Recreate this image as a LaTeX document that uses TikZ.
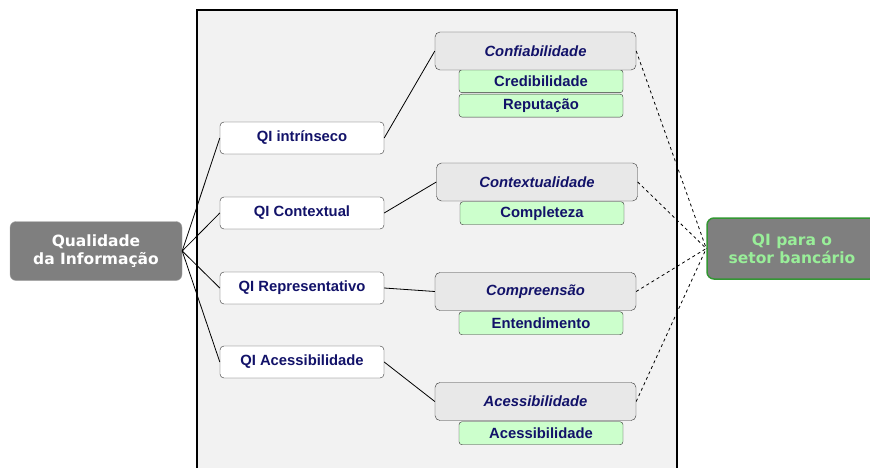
\documentclass[tikz,border=0pt]{standalone}
\usepackage{fontspec}
\setmainfont{Liberation Sans}
\newfontfamily\verdanafont{DejaVu Sans}
\usetikzlibrary{positioning}
\definecolor{navy}{RGB}{18,18,105}
\definecolor{panelgray}{RGB}{242,242,242}
\definecolor{boxgray}{RGB}{232,232,232}
\definecolor{subgreen}{RGB}{204,255,204}
\definecolor{darkgray}{RGB}{127,127,127}
\definecolor{lightgreen}{RGB}{153,238,153}
\definecolor{bordergreen}{RGB}{51,150,51}
\tikzset{qibox/.style={draw=black!80,fill=white,rounded corners=4pt,minimum width=164pt,minimum height=32pt,
           font=\fontsize{14.8}{16}\selectfont\bfseries,text=navy},
         dimbox/.style={draw=black!80,fill=boxgray,rounded corners=5pt,minimum width=201pt,minimum height=38pt,
           font=\fontsize{14.8}{16}\selectfont\bfseries\itshape,text=navy},
         subbox/.style={draw=black!80,fill=subgreen,rounded corners=3pt,minimum width=164pt,minimum height=23pt,
           font=\fontsize{14.8}{16}\selectfont\bfseries,text=navy,inner sep=0pt},
         link/.style={black,line width=0.8pt},
         dlink/.style={black,line width=0.8pt,dashed}
}
\begin{document}
\begin{tikzpicture}[x=1pt,y=-1pt]
\useasboundingbox (0,0) rectangle (870,468);

% painel central
\draw[fill=panelgray,line width=1.3pt] (197,480) -- (197,10) -- (677,10) -- (677,480);

\node[draw=black!35,fill=darkgray,rounded corners=6pt,minimum width=172pt,minimum height=59pt,align=center,
      text=white,font=\verdanafont\fontsize{15.5}{18}\selectfont\bfseries] (qual) at (96,251) {Qualidade\\da Informação};
\node[draw=bordergreen,line width=1.5pt,fill=darkgray,rounded corners=7pt,minimum width=170pt,minimum height=61pt,align=center,
      text=lightgreen,font=\verdanafont\fontsize{15.5}{18}\selectfont\bfseries] (setor) at (792,248.5) {QI para o\\setor bancário};

\node[qibox] (qi1) at (302,138) {QI intrínseco};
\node[qibox] (qi2) at (302,213) {QI Contextual};
\node[qibox] (qi3) at (302,288) {QI Representativo};
\node[qibox] (qi4) at (302,362) {QI Acessibilidade};

\node[subbox,below=-0.5pt of {(541,70)},anchor=north] (cred) {Credibilidade};
\node[subbox,below=1pt of cred] (reput) {Reputação};
\node[subbox,anchor=north] (compl) at (542,201.5) {Completeza};
\node[subbox,anchor=north] (enten) at (541,311.5) {Entendimento};
\node[subbox,anchor=north] (acess2) at (541,421.5) {Acessibilidade};

\node[dimbox] (conf) at (535.5,51) {Confiabilidade};
\node[dimbox] (cont) at (537,182) {Contextualidade};
\node[dimbox] (comp) at (535.5,291.5) {Compreensão};
\node[dimbox] (acess) at (535.5,401.5) {Acessibilidade};

\draw[link] (qual.east) -- (qi1.west);
\draw[link] (qual.east) -- (qi2.west);
\draw[link] (qual.east) -- (qi3.west);
\draw[link] (qual.east) -- (qi4.west);
\draw[link] (qi1.east) -- (conf.west);
\draw[link] (qi2.east) -- (cont.west);
\draw[link] (qi3.east) -- (comp.west);
\draw[link] (qi4.east) -- (acess.west);

\draw[dlink] (conf.east) -- (setor.west);
\draw[dlink] (cont.east) -- (setor.west);
\draw[dlink] (comp.east) -- (setor.west);
\draw[dlink] (acess.east) -- (setor.west);

\end{tikzpicture}
\end{document}
